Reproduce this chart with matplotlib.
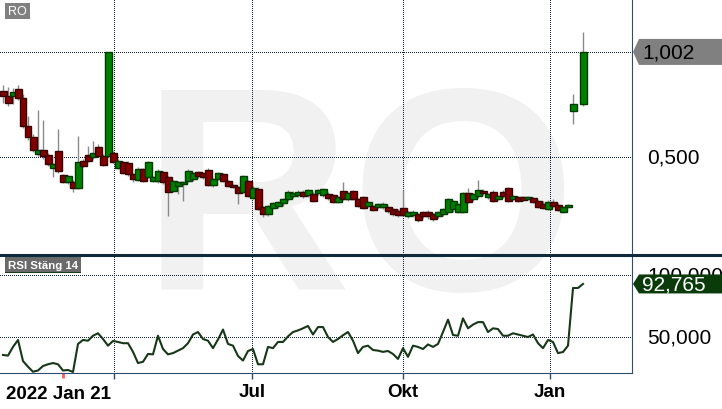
import matplotlib
matplotlib.use("Agg")
import matplotlib.pyplot as plt
import matplotlib.transforms as mtransforms
from matplotlib.patches import Rectangle, Polygon
from matplotlib.lines import Line2D
import numpy as np

plt.rcParams['font.family'] = ['Liberation Sans', 'DejaVu Sans']

nan = float('nan')

# daily candles (index 115 has no candle)
open_ = [.816, .792, .792, .825, .782, .648, .595, .514, .533, .510,
         .447, .529, .414, .380, .380, .352, .481, .510, .500, .548,
         .505, .505, .519, .447, .476, .471, .419, .390, .443, .404,
         .385, .385, .428, .404, .337, .361, .371, .385, .395, .428,
         .424, .438, .366, .395, .419, .385, .366, .356, .333, .385,
         .304, .347, .261, .228, .256, .266, .280, .299, .314, .318,
         .333, .318, .323, .328, .318, .323, .318, .285, .337, .299,
         .337, .299, .309, .266, .266, .261, .261, .261, .251, .242,
         .256, .218, .223, .228, .237, .237, .228, .218, .228, .237,
         .251, .237, .237, .328, .299, .314, .337, .309, .333, .299,
         .333, .352, .299, .309, .309, .299, .304, .290, .275, .251,
         .285, .271, .237, .261, .720, nan, .753]
high = [.844, .834, .830, .844, .800, .696, .610, .725, .677, .520,
        .470, .634, .420, .415, .390, .600, .490, .553, .576, .560,
        .515, 1.002, .530, .490, .480, .480, .425, .450, .447, .480,
        .410, .440, .435, .410, .390, .385, .385, .440, .430, .435,
        .430, .445, .400, .430, .425, .390, .370, .360, .415, .390,
        .360, .355, .265, .270, .285, .290, .305, .340, .335, .340,
        .340, .345, .330, .347, .352, .330, .325, .315, .380, .333,
        .342, .305, .315, .290, .270, .280, .285, .265, .256, .250,
        .342, .242, .245, .232, .242, .245, .232, .242, .256, .305,
        .295, .280, .333, .352, .328, .390, .345, .328, .340, .320,
        .340, .357, .320, .315, .313, .315, .309, .295, .290, .295,
        .300, .280, .265, .275, .801, nan, 1.098]
low = [.758, .744, .753, .770, .640, .580, .525, .505, .490, .455,
       .404, .425, .375, .370, .333, .345, .450, .476, .490, .500,
       .455, .500, .470, .440, .420, .410, .380, .385, .380, .400,
       .380, .375, .370, .218, .330, .323, .290, .380, .385, .400,
       .395, .360, .355, .390, .380, .355, .350, .275, .328, .310,
       .299, .245, .213, .220, .250, .255, .265, .290, .305, .310,
       .305, .310, .285, .320, .310, .295, .280, .280, .295, .290,
       .295, .260, .250, .261, .240, .255, .250, .230, .220, .215,
       .218, .210, .215, .190, .210, .205, .195, .210, .220, .230,
       .235, .230, .230, .280, .290, .305, .320, .300, .285, .295,
       .305, .285, .292, .285, .288, .292, .280, .255, .250, .245,
       .260, .240, .230, .255, .658, nan, .745]
close = [.792, .758, .811, .782, .648, .595, .533, .533, .505, .467,
         .467, .433, .380, .409, .352, .476, .457, .481, .519, .505,
         .462, 1.002, .476, .481, .424, .419, .395, .443, .385, .476,
         .404, .433, .380, .333, .385, .380, .380, .433, .424, .409,
         .404, .366, .395, .424, .385, .361, .356, .328, .409, .314,
         .352, .251, .228, .266, .280, .285, .299, .333, .328, .333,
         .314, .342, .290, .342, .347, .304, .285, .309, .299, .328,
         .299, .266, .256, .285, .247, .275, .275, .242, .228, .223,
         .223, .237, .237, .199, .218, .218, .204, .237, .251, .299,
         .290, .275, .328, .285, .323, .342, .328, .323, .290, .314,
         .314, .290, .314, .290, .294, .309, .285, .261, .256, .285,
         .266, .247, .261, .271, .753, nan, 1.002]

# RSI (Stäng, 14)
rsi = [35.5, 35, 42, 47.6, 30.6, 26, 22, 23, 26.6, 28,
       29, 28, 23, 23.4, 21.8, 44.4, 47.6, 47, 51, 53,
       48.4, 43, 46.8, 46, 45, 45, 38, 29, 30, 36.3,
       36, 51, 40.3, 36, 37, 39, 41, 45, 52, 54,
       48.4, 47, 41, 48, 56, 44.4, 43, 34.7, 31, 38.7,
       40.3, 28, 28, 42, 41, 46, 46, 50.5, 54, 55.3,
       57, 58.9, 52, 58, 58, 50, 46, 48.4, 51.4, 54,
       47, 37, 42, 43, 39.5, 39, 38, 38.7, 36.3, 32.3,
       41, 34, 43, 42, 40.3, 44, 42, 44.4, 54, 64,
       51.6, 51, 65, 57, 60, 62, 62, 54, 57, 56.4,
       51, 51, 53, 52, 51, 50, 52, 45, 41, 47.6,
       46, 37, 37.9, 43, 89.5, 89.5, 92.765]

last_price = 1.002
last_rsi = 92.765
price_ticks = [0.5]
price_tick_labels = ['0,500']
rsi_ticks = [100, 50]
rsi_tick_labels = ['100,000', '50,000']
date_ticks = [22.2, 49.8, 80, 109.4]
date_labels = ['', 'Jul', 'Okt', 'Jan']
first_label = '2022 Jan 21'
year_mark = 12

W, H = 722, 410
grid_c = '#0c2238'
grid_kw = dict(color=grid_c, lw=0.72, ls=(0, (1, 1.6)), antialiased=False, zorder=1)
spine_c = '#2e4d72'
up_fc, up_ec = '#008000', '#003a00'
dn_fc, dn_ec = '#800000', '#3a0000'

fig = plt.figure(figsize=(W / 100, H / 100), dpi=100)
fig.patch.set_facecolor('white')

# watermark behind both panels
fig.text(359 / W, 1 - 290 / H, 'RO', fontsize=209, fontweight='bold',
         color='#f1f1f1', ha='center', va='baseline', zorder=-5)

ax = fig.add_axes([0, 1 - 255 / H, 632 / W, 255 / H])
ax2 = fig.add_axes([0, 1 - 374 / H, 632 / W, 118 / H])
for a in (ax, ax2):
    a.set_facecolor('none')
    a.set_xlim(-0.6, 125.8)
    for s in ('left', 'top'):
        a.spines[s].set_visible(False)
    a.spines['right'].set_color(spine_c)
    a.set_yticks([])
    for v in date_ticks:
        a.axvline(v, **grid_kw)

ax.set_ylim(0.036, 1.255)
ax2.set_ylim(20.97, 116.1)
ax.spines['bottom'].set_visible(False)
ax.set_xticks([])
ax2.spines['bottom'].set_color(spine_c)

for v in price_ticks + [last_price]:
    ax.axhline(v, **grid_kw)
for v in rsi_ticks:
    ax2.axhline(v, **grid_kw)

# candles
o = np.array(open_)
h = np.array(high)
l = np.array(low)
c = np.array(close)
x = np.arange(len(c))
ok = ~np.isnan(c)
ax.vlines(x[ok], l[ok], h[ok], color='#8a8a8a', lw=1, zorder=2)
for i in x[ok]:
    up = c[i] >= o[i]
    ax.add_patch(Rectangle((i - 0.7, min(o[i], c[i])), 1.4, abs(c[i] - o[i]),
                           fc=up_fc if up else dn_fc, ec=up_ec if up else dn_ec,
                           lw=1, zorder=3))

ax2.plot(x, rsi, color='#163816', lw=1.5, zorder=3)

ax2.set_xticks(date_ticks, date_labels, fontsize=13.5, fontweight='bold')
ax2.tick_params(axis='x', length=4, width=1, color=spine_c, pad=3)
ax2.plot([year_mark, year_mark], [0, -0.045],
         transform=mtransforms.blended_transform_factory(ax2.transData, ax2.transAxes),
         color='#ff5a5a', lw=2, clip_on=False, solid_capstyle='butt')
fig.text(6 / W, 1 - 399 / H, first_label, fontsize=13.5, fontweight='bold',
         va='baseline', ha='left')

# right side labels
for a, ticks, labels in ((ax, price_ticks, price_tick_labels), (ax2, rsi_ticks, rsi_tick_labels)):
    for v, s in zip(ticks, labels):
        a.annotate(s, xy=(1, v), xycoords=('axes fraction', 'data'), xytext=(15, 0),
                   textcoords='offset pixels', va='center', ha='left', fontsize=15,
                   annotation_clip=False)

ident = mtransforms.IdentityTransform()


def tag(axis, value, label, fc, tc, hh):
    x0 = axis.transAxes.transform((1, 0))[0]
    y0 = axis.transData.transform((0, value))[1]
    fig.add_artist(Polygon([(x0 + 1, y0), (x0 + 7, y0 + hh), (W, y0 + hh), (W, y0 - hh),
                            (x0 + 7, y0 - hh)], closed=True, fc=fc, ec='none', transform=ident))
    fig.text(x0 + 10, y0, label, transform=ident, color=tc, fontsize=15,
             va='center', ha='left')


tag(ax, last_price, '1,002', '#808080', 'black', 13)
tag(ax2, last_rsi, '92,765', '#0b3a0b', 'white', 9.5)

# panel separator
fig.add_artist(Line2D([0, 1], [1 - 255.5 / H] * 2, transform=fig.transFigure,
                      color='#0f2a3a', lw=2.2))

# name and indicator boxes
fig.add_artist(Rectangle((5 / W, 1 - 20 / H), 25 / W, 16 / H, transform=fig.transFigure,
                         fc='#808080', ec='none'))
fig.text(17.5 / W, 1 - 12 / H, 'RO', color='white', ha='center', va='center', fontsize=9)
fig.add_artist(Rectangle((5 / W, 1 - 274 / H), 76 / W, 16 / H, transform=fig.transFigure,
                         fc='#6a6a6a', ec='none'))
fig.add_artist(Rectangle((5 / W, 1 - 274 / H), 76 / W, 1.5 / H, transform=fig.transFigure,
                         fc='#1c3a1c', ec='none'))
fig.text(43 / W, 1 - 266 / H, 'RSI Stäng 14', color='white', ha='center', va='center',
         fontsize=8.2, fontweight='bold')

fig.savefig('out.png', dpi=100)
